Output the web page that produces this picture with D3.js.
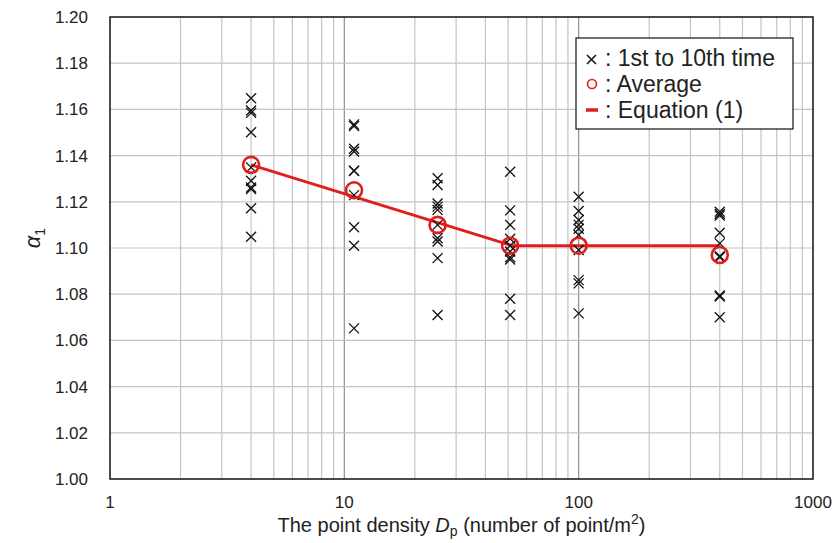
<!DOCTYPE html>
<html>
<head>
<meta charset="utf-8">
<script src="https://cdn.jsdelivr.net/npm/d3@7"></script>
<style>
  body { margin: 0; background: #fff; }
  svg text { font-family: "Liberation Sans", Arial, sans-serif; fill: #222; }
</style>
</head>
<body>
<div id="wrapper"></div>
<script>
// point densities (points/m2)
const densities = [4, 11, 25, 51, 100, 400]

// alpha_1 of 1st to 10th time, one array per density
const trials4 = [1.1648, 1.1595, 1.1585, 1.1501, 1.1349, 1.1291, 1.1262, 1.1255, 1.1172, 1.1049]
const trials11 = [1.1535, 1.1528, 1.1430, 1.1418, 1.1335, 1.1333, 1.1229, 1.1090, 1.1010, 1.0652]
const trials25 = [1.1302, 1.1273, 1.1193, 1.1179, 1.1165, 1.1100, 1.1042, 1.1028, 1.0956, 1.0710]
const trials51 = [1.1330, 1.1163, 1.1100, 1.1040, 1.1010, 1.0985, 1.0960, 1.0950, 1.0780, 1.0710]
const trials100 = [1.1222, 1.1160, 1.1121, 1.1100, 1.1083, 1.1056, 1.0991, 1.0861, 1.0847, 1.0717]
const trials400 = [1.1157, 1.1147, 1.1140, 1.1066, 1.1020, 1.0965, 1.0960, 1.0795, 1.0790, 1.0700]

const averages = [1.136, 1.125, 1.110, 1.101, 1.101, 1.097]

// Equation (1)
const equationX = [4, 52, 400]
const equationY = [1.136, 1.101, 1.101]

const xTicks = [1, 10, 100, 1000]
const yTicks = [1.00, 1.02, 1.04, 1.06, 1.08, 1.10, 1.12, 1.14, 1.16, 1.18, 1.20]

const legendLabels = [": 1st to 10th time", ": Average", ": Equation (1)"]

const allTrials = [trials4, trials11, trials25, trials51, trials100, trials400]

let dimensions = {
    width: 836,
    height: 543,
    margin: { top: 17, right: 23, bottom: 64, left: 110 },
}
dimensions.boundedWidth = dimensions.width - dimensions.margin.left - dimensions.margin.right
dimensions.boundedHeight = dimensions.height - dimensions.margin.top - dimensions.margin.bottom

const red = "#e01e1e"

const wrapper = d3.select("#wrapper")
    .append("svg")
    .attr("width", dimensions.width)
    .attr("height", dimensions.height)

const bounds = wrapper.append("g")
    .attr("transform", `translate(${dimensions.margin.left},${dimensions.margin.top})`)

const xScale = d3.scaleLog()
    .domain([1, 1000])
    .range([0, dimensions.boundedWidth])

const yScale = d3.scaleLinear()
    .domain([1.0, 1.2])
    .range([dimensions.boundedHeight, 0])

// grid: minor verticals
const minorX = []
for (let dec = 1; dec < 1000; dec *= 10) {
    for (let k = 2; k <= 9; k++) minorX.push(dec * k)
}
bounds.append("g")
    .selectAll("line")
    .data(minorX)
    .enter().append("line")
    .attr("x1", d => xScale(d)).attr("x2", d => xScale(d))
    .attr("y1", 0).attr("y2", dimensions.boundedHeight)
    .attr("stroke", "#c4c4c4")
    .attr("stroke-width", 1.2)

bounds.append("g")
    .selectAll("line")
    .data([10, 100])
    .enter().append("line")
    .attr("x1", d => xScale(d)).attr("x2", d => xScale(d))
    .attr("y1", 0).attr("y2", dimensions.boundedHeight)
    .attr("stroke", "#8e8e8e")
    .attr("stroke-width", 1.2)

bounds.append("g")
    .selectAll("line")
    .data(yTicks.slice(1, -1))
    .enter().append("line")
    .attr("x1", 0).attr("x2", dimensions.boundedWidth)
    .attr("y1", d => yScale(d)).attr("y2", d => yScale(d))
    .attr("stroke", "#c4c4c4")
    .attr("stroke-width", 1.2)

// frame
bounds.append("rect")
    .attr("width", dimensions.boundedWidth)
    .attr("height", dimensions.boundedHeight)
    .attr("fill", "none")
    .attr("stroke", "#111")
    .attr("stroke-width", 1.5)

// tick labels
bounds.append("g")
    .selectAll("text")
    .data(xTicks)
    .enter().append("text")
    .attr("x", d => xScale(d))
    .attr("y", dimensions.boundedHeight + 29)
    .attr("text-anchor", "middle")
    .style("font-size", "17px")
    .text(d => d)

bounds.append("g")
    .selectAll("text")
    .data(yTicks)
    .enter().append("text")
    .attr("x", -22)
    .attr("y", d => yScale(d) + 6)
    .attr("text-anchor", "end")
    .style("font-size", "17px")
    .text(d => d.toFixed(2))

// axis titles
const xTitle = wrapper.append("text")
    .attr("x", dimensions.margin.left + dimensions.boundedWidth / 2)
    .attr("y", 532)
    .attr("text-anchor", "middle")
    .style("font-size", "20px")
xTitle.append("tspan").text("The point density ")
xTitle.append("tspan").style("font-style", "italic").text("D")
xTitle.append("tspan").attr("dy", 4).style("font-size", "14px").text("p")
xTitle.append("tspan").attr("dy", -4).text(" (number of point/m")
xTitle.append("tspan").attr("dy", -8).style("font-size", "14px").text("2")
xTitle.append("tspan").attr("dy", 8).text(")")

const yTitle = wrapper.append("text")
    .attr("transform", "translate(40,238) rotate(-90)")
    .attr("text-anchor", "middle")
    .style("font-size", "22px")
yTitle.append("tspan").style("font-style", "italic").text("α")
yTitle.append("tspan").attr("dy", 5).style("font-size", "14px").text("1")

// equation line
const line = d3.line()
    .x(d => xScale(d[0]))
    .y(d => yScale(d[1]))

bounds.append("path")
    .datum(d3.zip(equationX, equationY))
    .attr("d", line)
    .attr("fill", "none")
    .attr("stroke", red)
    .attr("stroke-width", 3)

// trial crosses
const cross = 5
const trialPoints = densities.flatMap((dens, i) => allTrials[i].map(v => [dens, v]))
bounds.append("g")
    .selectAll("path")
    .data(trialPoints)
    .enter().append("path")
    .attr("d", d => {
        const x = xScale(d[0]), y = yScale(d[1])
        return `M${x - cross},${y - cross}L${x + cross},${y + cross}M${x - cross},${y + cross}L${x + cross},${y - cross}`
    })
    .attr("stroke", "#111")
    .attr("stroke-width", 1.3)
    .attr("fill", "none")

// averages
bounds.append("g")
    .selectAll("circle")
    .data(d3.zip(densities, averages))
    .enter().append("circle")
    .attr("cx", d => xScale(d[0]))
    .attr("cy", d => yScale(d[1]))
    .attr("r", 8)
    .attr("fill", "none")
    .attr("stroke", red)
    .attr("stroke-width", 2.6)

// legend
const legend = wrapper.append("g")
    .attr("transform", "translate(576,38)")

legend.append("rect")
    .attr("width", 217)
    .attr("height", 91)
    .attr("fill", "#fff")
    .attr("stroke", "#111")
    .attr("stroke-width", 1.2)

legend.selectAll("text")
    .data(legendLabels)
    .enter().append("text")
    .attr("x", 29)
    .attr("y", (d, i) => 28 + i * 26)
    .style("font-size", "23px")
    .text(d => d)

legend.append("path")
    .attr("d", "M11,17L20,26M11,26L20,17")
    .attr("stroke", "#111")
    .attr("stroke-width", 1.5)

legend.append("circle")
    .attr("cx", 16)
    .attr("cy", 46)
    .attr("r", 4.5)
    .attr("fill", "none")
    .attr("stroke", red)
    .attr("stroke-width", 1.6)

legend.append("line")
    .attr("x1", 10).attr("x2", 22)
    .attr("y1", 72).attr("y2", 72)
    .attr("stroke", red)
    .attr("stroke-width", 3.5)
</script>
</body>
</html>
